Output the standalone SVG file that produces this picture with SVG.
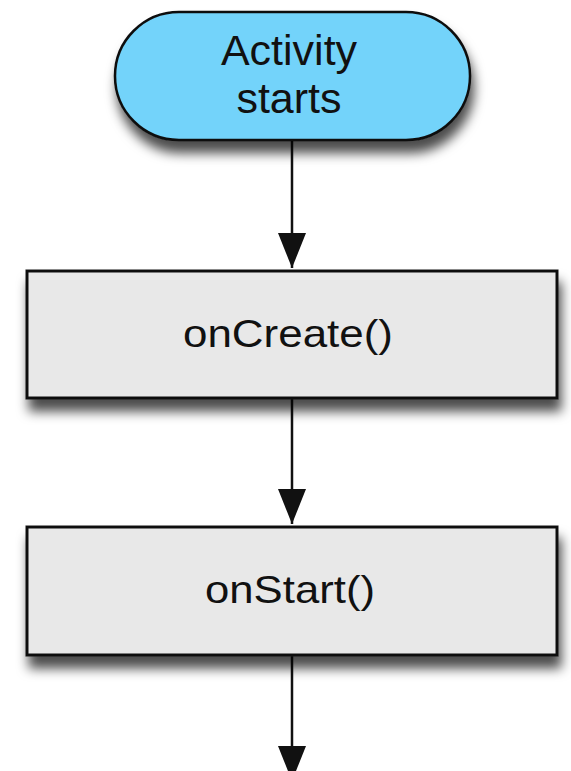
<svg xmlns="http://www.w3.org/2000/svg" width="571" height="771" viewBox="0 0 571 771">
  <style>
    .lbl { font-family: "Liberation Sans", Arial, sans-serif; fill: #111; text-anchor: middle; }
    .box { fill: #E8E8E8; stroke: #111; stroke-width: 3; filter: url(#shadow); }
    .pill { fill: #73D3FA; stroke: #111; stroke-width: 2.5; filter: url(#shadow); }
    .conn { stroke: #111; stroke-width: 2.5; fill: none; marker-end: url(#arrow); }
  </style>
  <defs>
    <filter id="shadow" x="-5%" y="-10%" width="115%" height="150%">
      <feDropShadow dx="3" dy="12" stdDeviation="6" flood-color="#000" flood-opacity="0.7"/>
    </filter>
    <marker id="arrow" markerUnits="userSpaceOnUse" markerWidth="36" markerHeight="30" refX="35" refY="14" orient="auto">
      <path d="M0,0 L35,14 L0,28 Z" fill="#111"/>
    </marker>
  </defs>
  <rect width="571" height="771" fill="#fff"/>
  <g id="connectors">
    <path class="conn" d="M292,141 L292,268"/>
    <path class="conn" d="M292,398 L292,524"/>
    <path class="conn" d="M292,655 L292,781"/>
  </g>
  <g id="activity-starts">
    <rect class="pill" x="115" y="12" width="355" height="128" rx="64" ry="64"/>
    <text class="lbl" x="289" y="65" font-size="43">Activity</text>
    <text class="lbl" x="289" y="113" font-size="43">starts</text>
  </g>
  <g id="onCreate">
    <rect class="box" x="27" y="271" width="530" height="127"/>
    <text class="lbl" x="288" y="347" font-size="39" textLength="210" lengthAdjust="spacingAndGlyphs">onCreate()</text>
  </g>
  <g id="onStart">
    <rect class="box" x="27" y="527" width="530" height="128"/>
    <text class="lbl" x="290" y="603" font-size="39" textLength="170" lengthAdjust="spacingAndGlyphs">onStart()</text>
  </g>
</svg>
